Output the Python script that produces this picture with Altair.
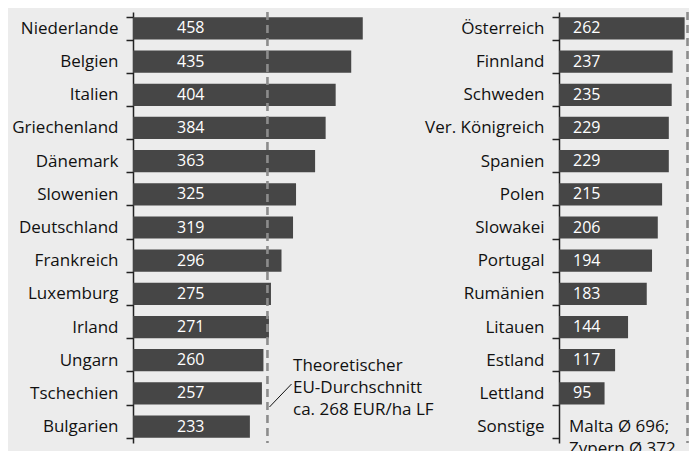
import altair as alt
import pandas as pd

left_countries = ["Niederlande", "Belgien", "Italien", "Griechenland", "Dänemark", "Slowenien",
                  "Deutschland", "Frankreich", "Luxemburg", "Irland", "Ungarn", "Tschechien", "Bulgarien"]
left_values = [458, 435, 404, 384, 363, 325, 319, 296, 275, 271, 260, 257, 233]

right_countries = ["Österreich", "Finnland", "Schweden", "Ver. Königreich", "Spanien", "Polen",
                   "Slowakei", "Portugal", "Rumänien", "Litauen", "Estland", "Lettland"]
right_values = [262, 237, 235, 229, 229, 215, 206, 194, 183, 144, 117, 95]
right_order = right_countries + ["Sonstige"]
sonstige_text = ["Malta Ø 696;", "Zypern Ø 372"]

eu_avg = 268
avg_text = ["Theoretischer", "EU-Durchschnitt", "ca. 268 EUR/ha LF"]

FONT = "Open Sans"
BAR = "#464646"
DASH = "#8c8c8c"
H = 431

left_df = pd.DataFrame({"land": left_countries, "wert": left_values})
right_df = pd.DataFrame({"land": right_countries, "wert": right_values})


def yaxis():
    return alt.Axis(title=None, tickBand="extent", tickSize=7, tickWidth=1.5, tickColor="#222",
                    domainColor="#222", domainWidth=1.5, labelFont=FONT, labelFontSize=17,
                    labelColor="#111", labelPadding=8, labelLimit=300)


def panel(df, order, xmax, label_dx, clip):
    y = alt.Y("land:N", sort=order, scale=alt.Scale(domain=order, paddingInner=0.33, paddingOuter=0.16),
              axis=yaxis())
    xs = alt.Scale(domain=[0, xmax], nice=False, zero=True)
    base = alt.Chart(df)
    bars = base.mark_bar(color=BAR, clip=clip).encode(
        y=y, x=alt.X("wert:Q", scale=xs, axis=None))
    labels = base.mark_text(color="white", align="left", baseline="middle", dx=label_dx,
                            font=FONT, fontSize=16).encode(
        y=alt.Y("land:N", sort=order),
        x=alt.datum(0, scale=xs, axis=None), text="wert:Q")
    rule = alt.Chart(pd.DataFrame({"avg": [eu_avg]})).mark_rule(
        color=DASH, strokeWidth=2.6, strokeDash=[8, 5], clip=clip).encode(
        x=alt.X("avg:Q", scale=xs, axis=None))
    return bars, labels, rule, xs


lb, ll, lr, lxs = panel(left_df, left_countries, 600, 44, False)
ann_df = pd.DataFrame({"x": [319], "land": ["Tschechien"]})
ann = alt.Chart(ann_df).mark_text(align="left", baseline="middle", font=FONT, fontSize=17,
                                  color="#111", lineHeight=22, dy=-27).encode(
    x=alt.X("x:Q", scale=lxs, axis=None), y=alt.Y("land:N", sort=left_countries),
    text=alt.value(avg_text))
lead = alt.Chart(pd.DataFrame({"x1": [272], "x2": [316]})).mark_rule(color="#111", strokeWidth=1).encode(
    x=alt.X("x1:Q", scale=lxs, axis=None), x2="x2:Q", y=alt.value(395), y2=alt.value(372))
left = alt.layer(lb, lr, ll, ann, lead).properties(width=301, height=H)

rb, rl, rr, rxs = panel(right_df, right_order, 271.1, 14, True)
son = alt.Chart(pd.DataFrame({"land": ["Sonstige"]})).mark_text(
    align="left", baseline="middle", font=FONT, fontSize=17, color="#111", lineHeight=22,
    dx=10, dy=0).encode(
    x=alt.datum(0, scale=rxs, axis=None), y=alt.Y("land:N", sort=right_order),
    text=alt.value(sonstige_text))
right = alt.layer(rb, rr, rl, son).properties(width=130, height=H)

chart = alt.hconcat(left, right, spacing=125, bounds="flush").properties(
    background="#ececec", padding={"left": 3, "top": -5, "right": 0, "bottom": 0}
).configure_view(stroke=None)

chart.save("out.html", embed_options={"renderer": "svg", "actions": False})
